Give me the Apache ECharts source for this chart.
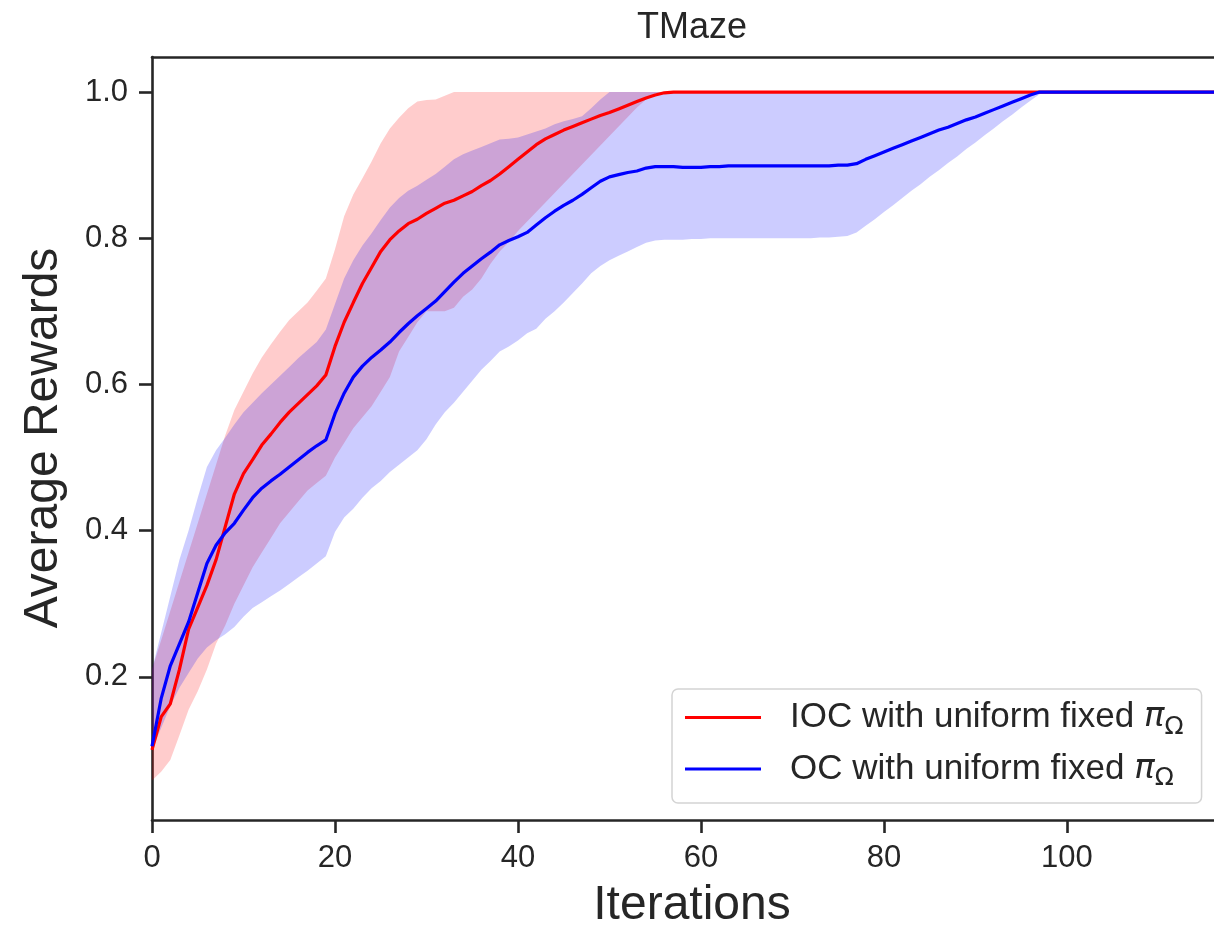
<!DOCTYPE html>
<html>
<head>
<meta charset="utf-8">
<script src="https://cdn.jsdelivr.net/npm/echarts@6/dist/echarts.min.js"></script>
<style>
html,body{margin:0;padding:0;background:#fff;}
#chart{width:1214px;height:928px;}
</style>
</head>
<body>
<div id="chart"></div>
<script>
// ---- data (iterations 0..118) ----
const iterations = [
0,1,2,3,4,5,6,7,8,9,10,11,12,13,14,15,16,17,18,19,
20,21,22,23,24,25,26,27,28,29,30,31,32,33,34,35,36,37,38,39,
40,41,42,43,44,45,46,47,48,49,50,51,52,53,54,55,56,57,58,59,
60,61,62,63,64,65,66,67,68,69,70,71,72,73,74,75,76,77,78,79,
80,81,82,83,84,85,86,87,88,89,90,91,92,93,94,95,96,97,98,99,
100,101,102,103,104,105,106,107,108,109,110,111,112,113,114,115,116,117,118];

const iocMean = [
0.100,0.145,0.163,0.210,0.265,0.295,0.325,0.360,0.405,0.450,
0.478,0.497,0.517,0.532,0.548,0.562,0.574,0.586,0.598,0.613,
0.652,0.685,0.712,0.738,0.760,0.782,0.798,0.810,0.820,0.826,
0.834,0.841,0.848,0.852,0.858,0.864,0.872,0.879,0.888,0.898,
0.908,0.918,0.928,0.936,0.942,0.948,0.953,0.958,0.963,0.968,
0.972,0.977,0.982,0.987,0.992,0.996,0.999,1,1,1,
1,1,1,1,1,1,1,1,1,1,
1,1,1,1,1,1,1,1,1,1,
1,1,1,1,1,1,1,1,1,1,
1,1,1,1,1,1,1,1,1,1,
1,1,1,1,1,1,1,1,1,1,
1,1,1,1,1,1,1,1,1];
const iocUpper = [
0.210,0.250,0.290,0.330,0.370,0.410,0.450,0.490,0.530,0.565,
0.590,0.615,0.637,0.655,0.672,0.688,0.700,0.712,0.728,0.745,
0.785,0.830,0.860,0.882,0.905,0.930,0.950,0.965,0.978,0.987,
0.989,0.990,0.995,1,1,1,1,1,1,1,
1,1,1,1,1,1,1,1,1,1,
1,1,1,1,1,1,1,1,1,1,
1,1,1,1,1,1,1,1,1,1,
1,1,1,1,1,1,1,1,1,1,
1,1,1,1,1,1,1,1,1,1,
1,1,1,1,1,1,1,1,1,1,
1,1,1,1,1,1,1,1,1,1,
1,1,1,1,1,1,1,1,1];
const iocLower = [
0.058,0.070,0.086,0.120,0.155,0.180,0.210,0.245,0.270,0.300,
0.325,0.350,0.370,0.390,0.410,0.425,0.440,0.455,0.465,0.475,
0.500,0.520,0.540,0.555,0.570,0.590,0.610,0.645,0.665,0.685,
0.700,0.700,0.700,0.705,0.720,0.730,0.745,0.765,0.782,0.795,
0.810,0.823,0.836,0.849,0.862,0.875,0.888,0.901,0.914,0.927,
0.940,0.953,0.966,0.979,0.990,0.998,1,1,1,1,
1,1,1,1,1,1,1,1,1,1,
1,1,1,1,1,1,1,1,1,1,
1,1,1,1,1,1,1,1,1,1,
1,1,1,1,1,1,1,1,1,1,
1,1,1,1,1,1,1,1,1,1,
1,1,1,1,1,1,1,1,1];

const ocMean = [
0.105,0.170,0.215,0.245,0.275,0.315,0.355,0.380,0.397,0.410,
0.428,0.445,0.458,0.468,0.477,0.487,0.497,0.507,0.516,0.524,
0.560,0.588,0.610,0.625,0.637,0.647,0.658,0.671,0.683,0.694,
0.704,0.714,0.727,0.740,0.752,0.762,0.772,0.781,0.791,0.797,
0.802,0.808,0.818,0.828,0.837,0.845,0.852,0.860,0.869,0.878,
0.884,0.887,0.890,0.892,0.896,0.898,0.898,0.898,0.897,0.897,
0.897,0.898,0.898,0.899,0.899,0.899,0.899,0.899,0.899,0.899,
0.899,0.899,0.899,0.899,0.899,0.900,0.900,0.902,0.908,0.913,
0.918,0.923,0.928,0.933,0.938,0.943,0.948,0.952,0.957,0.962,
0.966,0.971,0.976,0.981,0.986,0.991,0.996,1,1,1,
1,1,1,1,1,1,1,1,1,1,
1,1,1,1,1,1,1,1,1];
const ocUpper = [
0.210,0.260,0.310,0.360,0.400,0.445,0.487,0.510,0.527,0.545,
0.562,0.575,0.588,0.600,0.612,0.624,0.636,0.647,0.658,0.675,
0.710,0.745,0.770,0.790,0.807,0.825,0.842,0.855,0.865,0.872,
0.880,0.888,0.898,0.908,0.915,0.920,0.925,0.930,0.935,0.936,
0.938,0.942,0.946,0.950,0.956,0.960,0.963,0.967,0.978,0.990,
1,1,1,1,1,1,1,1,1,1,
1,1,1,1,1,1,1,1,1,1,
1,1,1,1,1,1,1,1,1,1,
1,1,1,1,1,1,1,1,1,1,
1,1,1,1,1,1,1,1,1,1,
1,1,1,1,1,1,1,1,1,1,
1,1,1,1,1,1,1,1,1];
const ocLower = [
0.100,0.130,0.160,0.185,0.205,0.225,0.240,0.250,0.258,0.268,
0.282,0.294,0.302,0.310,0.318,0.327,0.336,0.345,0.355,0.365,
0.398,0.418,0.430,0.445,0.458,0.468,0.480,0.490,0.500,0.510,
0.525,0.545,0.562,0.575,0.590,0.605,0.620,0.632,0.645,0.652,
0.660,0.670,0.676,0.690,0.700,0.712,0.725,0.738,0.752,0.762,
0.770,0.776,0.782,0.788,0.794,0.797,0.798,0.798,0.798,0.799,
0.799,0.800,0.800,0.800,0.800,0.800,0.800,0.800,0.800,0.800,
0.800,0.800,0.800,0.801,0.801,0.802,0.803,0.808,0.817,0.826,
0.836,0.845,0.855,0.865,0.874,0.884,0.893,0.903,0.912,0.922,
0.931,0.941,0.950,0.960,0.969,0.979,0.988,0.997,1,1,
1,1,1,1,1,1,1,1,1,1,
1,1,1,1,1,1,1,1,1];

const xTicks = [0, 20, 40, 60, 80, 100];
const yTicks = [0.2, 0.4, 0.6, 0.8, 1.0];
const seriesNames = ['IOC', 'OC'];
const legendLabels = ['IOC with uniform fixed ', 'OC with uniform fixed '];
const titleText = 'TMaze';
const xLabel = 'Iterations';
const yLabel = 'Average Rewards';

// ---- build ----
const pairs = (ys) => iterations.map((x, i) => [x, ys[i]]);

const TXT = '#262626';
const FONT = '"Liberation Sans", Arial, sans-serif';

const chart = echarts.init(document.getElementById('chart'), null, {renderer: 'canvas'});

function bandSeries(name, lo, hi, color) {
  return {
    name: name, type: 'custom', silent: true, z: 1,
    data: pairs(hi),
    encode: {x: 0, y: 1},
    renderItem: function (params, api) {
      if (params.dataIndex !== 0) return null;
      const pts = [];
      for (let i = 0; i < iterations.length; i++) pts.push(api.coord([iterations[i], hi[i]]));
      for (let i = iterations.length - 1; i >= 0; i--) pts.push(api.coord([iterations[i], lo[i]]));
      return {type: 'polygon', shape: {points: pts}, style: {fill: color, stroke: null}};
    },
    animation: false
  };
}

const option = {
  animation: false,
  backgroundColor: '#ffffff',
  grid: {left: 152, top: 57, right: 0, height: 763, show: false},
  xAxis: [
    {
      type: 'value', min: 0, max: 116.07, position: 'bottom',
      axisLine: {show: true, onZero: false, lineStyle: {color: TXT, width: 2.6}},
      splitLine: {show: false},
      axisTick: {show: true, length: 13, customValues: xTicks, lineStyle: {color: TXT, width: 2.6}},
      axisLabel: {customValues: xTicks, color: TXT, fontSize: 31, fontFamily: FONT, margin: 23}
    },
    {
      type: 'value', min: 0, max: 116.07, position: 'top',
      axisLine: {show: true, onZero: false, lineStyle: {color: TXT, width: 2.6}},
      splitLine: {show: false}, axisTick: {show: false}, axisLabel: {show: false}
    }
  ],
  yAxis: {
    type: 'value', min: 0.004, max: 1.048,
    axisLine: {show: true, onZero: false, lineStyle: {color: TXT, width: 2.6}},
    splitLine: {show: false},
    axisTick: {show: true, length: 13, customValues: yTicks, lineStyle: {color: TXT, width: 2.6}},
    axisLabel: {customValues: yTicks, color: TXT, fontSize: 31, fontFamily: FONT, margin: 24,
      formatter: v => Number(v).toFixed(1)}
  },
  legend: {
    data: seriesNames,
    orient: 'vertical',
    left: 672, top: 689,
    itemWidth: 76, itemHeight: 3,
    icon: 'rect',
    itemGap: 12,
    padding: [11, 18, 12, 13],
    backgroundColor: '#ffffff',
    borderColor: '#d4d4d4', borderWidth: 1.5, borderRadius: 6,
    selectedMode: false,
    formatter: function (name) {
      const idx = seriesNames.indexOf(name);
      return '{a|' + legendLabels[idx] + '}{p|\u03c0}{s|\u03a9}';
    },
    textStyle: {
      rich: {
        a: {fontSize: 35, fontFamily: FONT, color: TXT, lineHeight: 44, verticalAlign: 'middle', padding: [0, 0, 0, 24]},
        p: {fontSize: 34, fontFamily: '"DejaVu Sans", sans-serif', fontStyle: 'italic', color: TXT, lineHeight: 44, verticalAlign: 'middle'},
        s: {fontSize: 25, fontFamily: '"DejaVu Sans", sans-serif', color: TXT, lineHeight: 20, verticalAlign: 'bottom'}
      }
    }
  },
  graphic: [
    {type: 'text', x: 692, y: 28, silent: true,
      style: {text: titleText, fill: TXT, fontSize: 36, fontFamily: FONT, align: 'center', verticalAlign: 'middle'}},
    {type: 'text', x: 692, y: 906, silent: true,
      style: {text: xLabel, fill: TXT, fontSize: 48, fontFamily: FONT, align: 'center', verticalAlign: 'middle'}},
    {type: 'text', x: 44, y: 438, rotation: Math.PI / 2, silent: true,
      style: {text: yLabel, fill: TXT, fontSize: 48, fontFamily: FONT, align: 'center', verticalAlign: 'middle'}}
  ],
  series: [
    bandSeries('iocBand', iocLower, iocUpper, 'rgba(255,0,0,0.2)'),
    bandSeries('ocBand', ocLower, ocUpper, 'rgba(0,0,255,0.2)'),
    {
      name: seriesNames[0], type: 'line', data: pairs(iocMean),
      symbol: 'none', color: '#ff0000', z: 5,
      lineStyle: {color: '#ff0000', width: 3.2}
    },
    {
      name: seriesNames[1], type: 'line', data: pairs(ocMean),
      symbol: 'none', color: '#0000ff', z: 6,
      lineStyle: {color: '#0000ff', width: 3.2}
    }
  ]
};
chart.setOption(option);
</script>
</body>
</html>
